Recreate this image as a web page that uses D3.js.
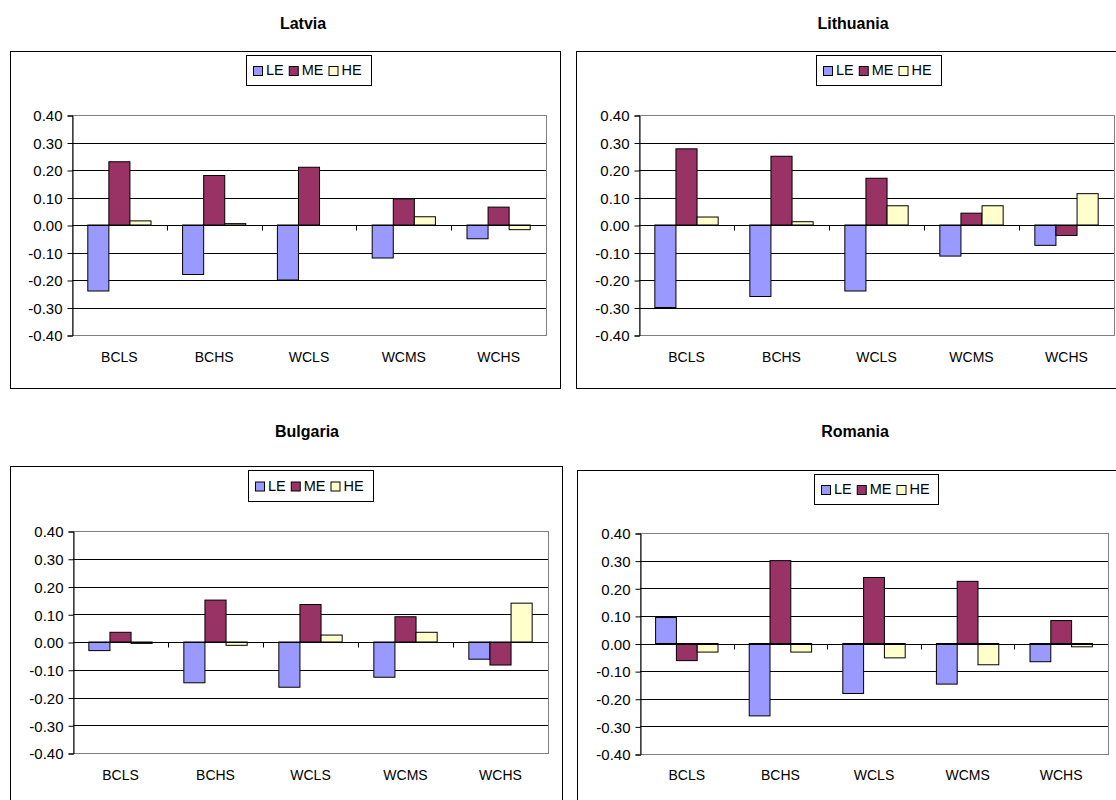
<!DOCTYPE html>
<html>
<head>
<meta charset="utf-8">
<script src="https://cdn.jsdelivr.net/npm/d3@7"></script>
<style>
  body { margin: 0; background: #fff; }
  svg { font-family: Arial, "Liberation Sans", sans-serif; }
  .title { font-weight: bold; font-size: 16px; }
  .tick text { font-size: 15px; fill: #000; }
</style>
</head>
<body>
<svg id="chart" width="1116" height="800"></svg>
<script>
const categories = ["BCLS", "BCHS", "WCLS", "WCMS", "WCHS"];
const seriesNames = ["LE", "ME", "HE"];
const seriesColors = ["#9999FF", "#993366", "#FFFFCC"];
const yTicks = [-0.4, -0.3, -0.2, -0.1, 0, 0.1, 0.2, 0.3, 0.4];

// rows: LE, ME, HE ; columns follow categories
const latvia = [
  [-0.24, -0.18, -0.20, -0.12, -0.05],
  [0.23, 0.18, 0.21, 0.095, 0.065],
  [0.015, 0.005, 0.0, 0.03, -0.017]
];
const lithuania = [
  [-0.30, -0.26, -0.24, -0.113, -0.074],
  [0.277, 0.25, 0.17, 0.043, -0.038],
  [0.029, 0.012, 0.07, 0.07, 0.114]
];
const bulgaria = [
  [-0.031, -0.147, -0.163, -0.127, -0.062],
  [0.035, 0.151, 0.135, 0.091, -0.083],
  [-0.005, -0.012, 0.025, 0.035, 0.14]
];
const romania = [
  [0.094, -0.262, -0.181, -0.147, -0.066],
  [-0.062, 0.30, 0.239, 0.225, 0.083],
  [-0.031, -0.031, -0.052, -0.077, -0.012]
];

// layout of the four panels
const panels = [
  { title: "Latvia", data: latvia, titleX: 303, titleY: 29,
    box: [10, 51, 550, 337], plot: [72, 115, 546, 335], legend: [246, 55, 125, 30], labelY: 362 },
  { title: "Lithuania", data: lithuania, titleX: 853, titleY: 29,
    box: [576, 51, 560, 337], plot: [639, 115, 1114, 335], legend: [816, 55, 125, 30], labelY: 362 },
  { title: "Bulgaria", data: bulgaria, titleX: 307, titleY: 437,
    box: [10, 466, 552, 400], plot: [73, 531, 548, 753], legend: [248, 470, 125, 31], labelY: 780 },
  { title: "Romania", data: romania, titleX: 855, titleY: 437,
    box: [577, 470, 560, 400], plot: [640, 533, 1108, 754], legend: [814, 474, 124, 30], labelY: 780 }
];

const svg = d3.select("#chart");

panels.forEach(function (p) {
  const g = svg.append("g");

  // outer frame
  g.append("rect")
    .attr("x", p.box[0] + 0.5).attr("y", p.box[1] + 0.5)
    .attr("width", p.box[2]).attr("height", p.box[3])
    .attr("fill", "#fff").attr("stroke", "#000").attr("stroke-width", 1);

  g.append("text")
    .attr("class", "title")
    .attr("x", p.titleX).attr("y", p.titleY)
    .attr("text-anchor", "middle")
    .text(p.title);

  const [x0, y0, x1, y1] = p.plot;

  const x = d3.scaleBand().domain(categories).range([x0, x1]).padding(0);
  const xs = d3.scaleBand().domain(seriesNames)
    .range([0, x.bandwidth()]).paddingInner(0).paddingOuter(0.75);
  const y = d3.scaleLinear().domain([-0.4, 0.4]).range([y1, y0]);

  // plot border
  g.append("rect")
    .attr("x", x0 + 0.5).attr("y", y(0.4) + 0.5)
    .attr("width", x1 - x0).attr("height", y(-0.4) - y(0.4))
    .attr("fill", "none").attr("stroke", "#808080");

  // gridlines
  g.append("g").selectAll("line")
    .data(yTicks.filter(d => Math.abs(d) < 0.35 && d !== 0))
    .enter().append("line")
    .attr("x1", x0).attr("x2", x1)
    .attr("y1", d => Math.round(y(d)) + 0.5).attr("y2", d => Math.round(y(d)) + 0.5)
    .attr("stroke", "#000");

  // bars
  seriesNames.forEach(function (s, i) {
    g.append("g").selectAll("rect")
      .data(p.data[i])
      .enter().append("rect")
      .attr("x", (d, j) => x(categories[j]) + xs(s))
      .attr("width", xs.bandwidth())
      .attr("y", d => y(Math.max(0, d)))
      .attr("height", d => Math.abs(y(d) - y(0)))
      .attr("fill", seriesColors[i])
      .attr("stroke", "#000")
      .attr("stroke-width", 1);
  });

  // y axis
  const yAxis = d3.axisLeft(y)
    .tickValues(yTicks)
    .tickFormat(d => d.toFixed(2))
    .tickSize(5)
    .tickPadding(5);
  const ya = g.append("g")
    .attr("transform", "translate(" + (x0 + 0.5) + ",0.5)")
    .call(yAxis);
  ya.select(".domain").attr("stroke", "#000");
  ya.selectAll(".tick line").attr("stroke", "#000");
  ya.selectAll(".tick text").attr("dy", "0.35em");

  // category axis at zero
  const zy = Math.round(y(0)) + 0.5;
  g.append("line")
    .attr("x1", x0).attr("x2", x1)
    .attr("y1", zy).attr("y2", zy)
    .attr("stroke", "#000");
  g.append("g").selectAll("line")
    .data(categories.slice(1))
    .enter().append("line")
    .attr("x1", d => Math.round(x(d)) + 0.5).attr("x2", d => Math.round(x(d)) + 0.5)
    .attr("y1", zy).attr("y2", zy + 5)
    .attr("stroke", "#000");

  // category labels at the bottom
  g.append("g").selectAll("text")
    .data(categories)
    .enter().append("text")
    .attr("x", d => x(d) + x.bandwidth() / 2)
    .attr("y", p.labelY)
    .attr("text-anchor", "middle")
    .attr("font-size", 14)
    .text(d => d);

  // legend
  const lg = g.append("g").attr("transform", "translate(" + p.legend[0] + "," + p.legend[1] + ")");
  lg.append("rect")
    .attr("x", 0.5).attr("y", 0.5)
    .attr("width", p.legend[2]).attr("height", p.legend[3])
    .attr("fill", "#fff").attr("stroke", "#000");
  let lx = 7;
  seriesNames.forEach(function (s, i) {
    lg.append("rect")
      .attr("x", lx + 0.5).attr("y", p.legend[3] / 2 - 4 + 0.5)
      .attr("width", 9).attr("height", 9)
      .attr("fill", seriesColors[i]).attr("stroke", "#000");
    const t = lg.append("text")
      .attr("x", lx + 13).attr("y", p.legend[3] / 2 + 5)
      .attr("font-size", 14.5)
      .text(s);
    lx += 13 + t.node().getComputedTextLength() + 5;
  });
});
</script>
</body>
</html>
